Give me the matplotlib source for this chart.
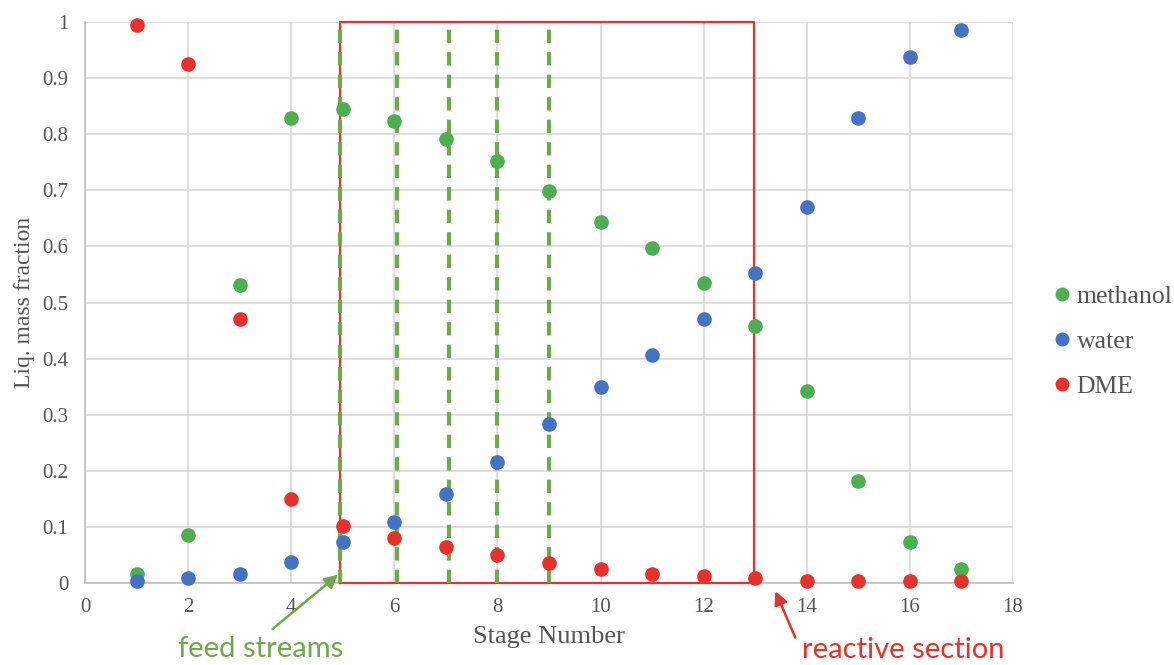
import matplotlib
matplotlib.use("Agg")
import matplotlib.pyplot as plt

stages = list(range(1, 18))
methanol = [0.016, 0.086, 0.531, 0.829, 0.845, 0.824, 0.791, 0.752, 0.699, 0.643,
            0.597, 0.535, 0.458, 0.342, 0.182, 0.073, 0.025]
water = [0.004, 0.009, 0.016, 0.037, 0.073, 0.109, 0.159, 0.216, 0.283, 0.349,
         0.406, 0.471, 0.553, 0.670, 0.829, 0.938, 0.986]
dme = [0.995, 0.925, 0.471, 0.150, 0.102, 0.080, 0.064, 0.050, 0.036, 0.025,
       0.016, 0.012, 0.009, 0.004, 0.004, 0.004, 0.004]
feed_stages = [4.95, 6.05, 7.07, 8.0, 9.0]
reactive_start, reactive_end = 4.95, 12.97
xticks = [0, 2, 4, 6, 8, 10, 12, 14, 16, 18]
yticks = [0, 0.1, 0.2, 0.3, 0.4, 0.5, 0.6, 0.7, 0.8, 0.9, 1.0]
ytick_labels = ["0", "0.1", "0.2", "0.3", "0.4", "0.5", "0.6", "0.7", "0.8", "0.9", "1"]

GREEN = "#4CAF50"
BLUE = "#4472C4"
RED = "#E8312A"
DASH_GREEN = "#70A84B"
TXT = "#555555"

serif = ["Liberation Serif", "DejaVu Serif"]

fig = plt.figure(figsize=(11.74, 6.65), dpi=100)
ax = fig.add_axes([85/1174, 1-583/665, (1013-85)/1174, (583-22)/665])

ax.set_xlim(0, 18)
ax.set_ylim(0, 1)
ax.set_xticks(xticks)
ax.set_yticks(yticks)
ax.set_yticklabels(ytick_labels)
ax.grid(True, color="#D9D9D9", linewidth=1.2, zorder=0)
for s in ["top", "right"]:
    ax.spines[s].set_visible(False)
for s in ["left", "bottom"]:
    ax.spines[s].set_color("#BFBFBF")
    ax.spines[s].set_linewidth(1.2)
ax.tick_params(axis="y", length=0, pad=12, labelcolor=TXT)
ax.tick_params(axis="x", length=0, pad=11, labelcolor=TXT)
for lab in ax.get_xticklabels() + ax.get_yticklabels():
    lab.set_family(serif)
    lab.set_fontsize(15)

# reactive section rectangle
ax.plot([reactive_start, reactive_start, reactive_end, reactive_end, reactive_start],
        [0, 1, 1, 0, 0], color=RED, linewidth=1.6, zorder=3, clip_on=False)
# feed stream dashed lines
for fx in feed_stages:
    ax.plot([fx, fx], [0, 1], color=DASH_GREEN, linewidth=3, linestyle=(0, (3.2, 2.2)),
            zorder=3, clip_on=False)

ms = 9.5
ax.plot(stages, methanol, "o", color=GREEN, markersize=ms, label="methanol", zorder=5, clip_on=False)
ax.plot(stages, water, "o", color=BLUE, markersize=ms, label="water", zorder=5, clip_on=False)
ax.plot(stages, dme, "o", color=RED, markersize=ms, label="DME", zorder=5, clip_on=False)

ax.set_xlabel("Stage Number", family=serif, fontsize=19, color=TXT, labelpad=6)
ax.set_ylabel("Liq. mass fraction", family=serif, fontsize=17, color=TXT, labelpad=5)

leg = ax.legend(loc="center left", bbox_to_anchor=(1.02, 0.43), frameon=False,
                handlelength=0.6, handletextpad=0.25, labelspacing=0.85, markerscale=0.95,
                prop={"family": serif, "size": 18.5})
for t in leg.get_texts():
    t.set_color(TXT)

sans = ["Lato", "DejaVu Sans"]
ax.annotate("", xy=(4.95, 0.018), xytext=(3.6, -0.085),
            arrowprops=dict(arrowstyle="-|>", color=DASH_GREEN, lw=1.8, mutation_scale=20),
            annotation_clip=False)
ax.text(3.4, -0.117, "feed streams", family=sans, fontsize=21, color=DASH_GREEN,
        ha="center", va="center")
ax.annotate("", xy=(13.37, -0.01), xytext=(13.8, -0.102),
            arrowprops=dict(arrowstyle="-|>", color=RED, lw=1.8, mutation_scale=20),
            annotation_clip=False)
ax.text(15.87, -0.119, "reactive section", family=sans, fontsize=21, color=RED,
        ha="center", va="center")

fig.savefig("out.png", dpi=100)
